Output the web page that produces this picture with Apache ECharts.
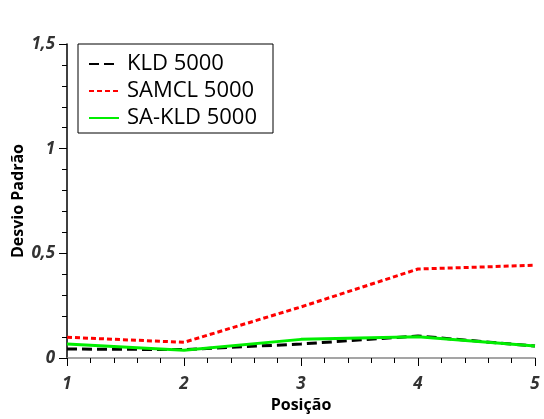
<!DOCTYPE html>
<html>
<head>
<meta charset="utf-8">
<script src="https://cdn.jsdelivr.net/npm/echarts@6/dist/echarts.min.js"></script>
<style>
  html, body { margin: 0; padding: 0; background: #fff; }
  #main { width: 544px; height: 419px; }
</style>
</head>
<body>
<div id="main"></div>
<script>
// posições e desvio padrão de cada método
const posicoes = [1, 2, 3, 4, 5];
const kld = [0.043, 0.040, 0.067, 0.105, 0.057];
const samcl = [0.099, 0.075, 0.244, 0.425, 0.443];
const saKld = [0.067, 0.037, 0.089, 0.102, 0.057];
const nomes = ['KLD 5000', 'SAMCL 5000', 'SA-KLD 5000'];

const pares = arr => posicoes.map((p, i) => [p, arr[i]]);
const virgula = v => String(v).replace('.', ',');

const chart = echarts.init(document.getElementById('main'));
const labelStyle = { color: '#333', fontWeight: 'bold', fontStyle: 'italic', fontSize: 17, fontFamily: 'Open Sans' };
const nameStyle = { color: '#000', fontWeight: 'bold', fontSize: 16, fontFamily: 'Open Sans' };

chart.setOption({
    animation: false,
    backgroundColor: '#fff',
    grid: { left: 67, right: 9, top: 44, bottom: 61, outerBoundsMode: 'none' },
    legend: {
        left: 78, top: 44,
        orient: 'vertical',
        data: nomes,
        borderColor: '#000', borderWidth: 1,
        padding: [9, 16, 4, 10],
        itemGap: 5,
        itemWidth: 30, itemHeight: 14,
        itemStyle: { opacity: 0 },
        textStyle: { color: '#000', fontSize: 22, fontFamily: 'Open Sans', padding: [0, 0, 0, 3] }
    },
    xAxis: {
        type: 'value',
        min: 1, max: 5, interval: 1,
        name: 'Posição',
        nameLocation: 'middle',
        nameGap: 39,
        nameMoveOverlap: false,
        nameTextStyle: nameStyle,
        axisLine: { lineStyle: { color: '#888', width: 1.5 } },
        axisTick: { show: true, length: 8, lineStyle: { color: '#000' } },
        minorTick: { show: true, splitNumber: 5, length: 5, lineStyle: { color: '#000' } },
        splitLine: { show: false },
        axisLabel: { ...labelStyle, margin: 18, formatter: virgula }
    },
    yAxis: {
        type: 'value',
        min: 0, max: 1.5, interval: 0.5,
        name: 'Desvio Padrão',
        nameLocation: 'middle',
        nameGap: 41,
        nameMoveOverlap: false,
        nameTextStyle: nameStyle,
        axisLine: { show: true, lineStyle: { color: '#000', width: 1.5 } },
        axisTick: { show: true, length: 8, lineStyle: { color: '#000' } },
        minorTick: { show: true, splitNumber: 5, length: 5, lineStyle: { color: '#000' } },
        splitLine: { show: false },
        axisLabel: { ...labelStyle, margin: 12, formatter: virgula }
    },
    series: [
        {
            name: nomes[0], type: 'line', data: pares(kld), symbol: 'none', z: 3,
            lineStyle: { color: '#000', width: 3, type: [10, 5] },
            itemStyle: { color: '#000' }
        },
        {
            name: nomes[1], type: 'line', data: pares(samcl), symbol: 'none', z: 2,
            lineStyle: { color: '#ff0000', width: 3, type: [5, 3] },
            itemStyle: { color: '#ff0000' }
        },
        {
            name: nomes[2], type: 'line', data: pares(saKld), symbol: 'none', z: 4,
            lineStyle: { color: '#00ee00', width: 3 },
            itemStyle: { color: '#00ee00' }
        }
    ]
});
</script>
</body>
</html>
